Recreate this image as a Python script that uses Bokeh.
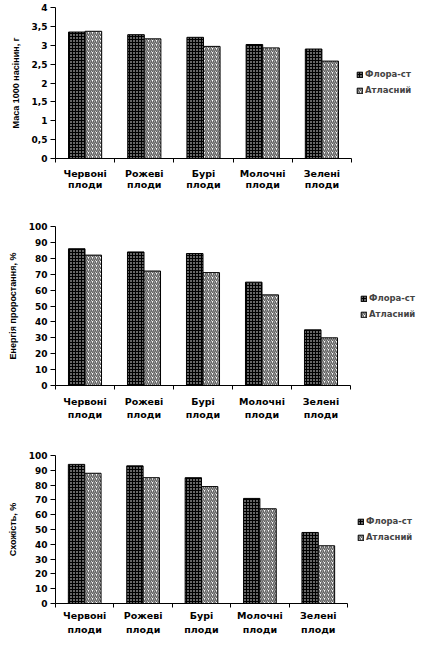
from bokeh.plotting import figure
from bokeh.models import (FixedTicker, CustomJSTickFormatter, Range1d, Legend,
                          LegendItem, ColumnDataSource)
from bokeh.transform import dodge
from bokeh.layouts import column
from bokeh.embed import file_html
from bokeh.resources import INLINE

# ---- data ----
categories = ["Червоні\nплоди", "Рожеві\nплоди", "Бурі\nплоди", "Молочні\nплоди", "Зелені\nплоди"]
series_names = ["Флора-ст", "Атласний"]

mass_flora = [3.35, 3.28, 3.21, 3.02, 2.90]
mass_atlas = [3.37, 3.17, 2.97, 2.93, 2.58]
energy_flora = [86, 84, 83, 65, 35]
energy_atlas = [82, 72, 71, 57, 30]
germ_flora = [94, 93, 85, 71, 48]
germ_atlas = [88, 85, 79, 64, 39]

mass_ticks = [0, 0.5, 1, 1.5, 2, 2.5, 3, 3.5, 4]
pct_ticks = [0, 10, 20, 30, 40, 50, 60, 70, 80, 90, 100]

y_titles = ["Маса 1000 насінин, г", "Енергія проростання, %", "Схожість, %"]

TOTAL_W = 431
RIGHT = 2
charts = [
    dict(title=y_titles[0], flora=mass_flora, atlas=mass_atlas, ticks=mass_ticks,
         aw=296, fh=151, top=7, bottom=55, left=52, std=8, xstd=5, lh=1.05, leg_y=62),
    dict(title=y_titles[1], flora=energy_flora, atlas=energy_atlas, ticks=pct_ticks,
         aw=295, fh=159, top=13, bottom=45, left=53, std=8, xstd=6, lh=1.25, leg_y=65),
    dict(title=y_titles[2], flora=germ_flora, atlas=germ_atlas, ticks=pct_ticks,
         aw=292, fh=148, top=25, bottom=47, left=55, std=8, xstd=2, lh=1.35, leg_y=60),
]

BAR_W = 0.28
FONT = "DejaVu Sans"

figs = []
for c in charts:
    n = len(categories)
    idx = list(range(n))
    fw = TOTAL_W - c["left"] - RIGHT
    x_end = -0.5 + n * fw / c["aw"]          # room on the right for the legend
    src = ColumnDataSource(dict(x=idx, flora=c["flora"], atlas=c["atlas"]))
    p = figure(frame_width=fw, frame_height=c["fh"], output_backend="svg",
               toolbar_location=None,
               x_range=Range1d(-0.5, x_end),
               y_range=Range1d(c["ticks"][0], c["ticks"][-1]),
               min_border_top=c["top"], min_border_bottom=c["bottom"],
               min_border_left=c["left"], min_border_right=RIGHT)
    p.outline_line_color = None
    p.grid.visible = False
    p.background_fill_color = "white"
    p.border_fill_color = "white"

    r1 = p.vbar(x=dodge("x", -BAR_W / 2), top="flora", bottom=0,
                width=BAR_W, source=src, fill_color="black", line_color="black",
                line_width=1, hatch_pattern="dot", hatch_color="white",
                hatch_scale=3, hatch_weight=0.7)
    r2 = p.vbar(x=dodge("x", BAR_W / 2), top="atlas", bottom=0,
                width=BAR_W, source=src, fill_color="white", line_color="black",
                line_width=1, hatch_pattern="right_diagonal_line", hatch_color="#606060",
                hatch_scale=4, hatch_weight=1.5)

    # x axis: labels at category centres, tick marks at category boundaries
    xa = p.xaxis[0]
    xa.bounds = (-0.5, n - 0.5)
    xa.ticker = FixedTicker(ticks=idx, minor_ticks=[i - 0.5 for i in range(n + 1)])
    xa.formatter = CustomJSTickFormatter(args=dict(labels=categories),
                                         code="return labels[Math.round(tick)] || '';")
    xa.major_tick_out = 0
    xa.major_tick_in = 0
    xa.minor_tick_out = 4
    xa.minor_tick_in = 0
    xa.minor_tick_line_color = "black"
    xa.axis_line_color = "black"
    xa.major_label_standoff = c["xstd"]
    xa.major_label_text_font = FONT
    xa.major_label_text_font_style = "bold"
    xa.major_label_text_font_size = "9.5px"
    xa.major_label_text_line_height = c["lh"]
    xa.major_label_text_color = "black"

    ya = p.yaxis[0]
    ya.ticker = FixedTicker(ticks=c["ticks"], minor_ticks=[])
    ya.formatter = CustomJSTickFormatter(code="return tick.toString().replace('.', ',');")
    ya.major_tick_out = 5
    ya.major_tick_in = 0
    ya.minor_tick_line_color = None
    ya.axis_line_color = "black"
    ya.major_label_standoff = 3
    ya.major_label_text_font = FONT
    ya.major_label_text_font_style = "bold"
    ya.major_label_text_font_size = "9px"
    ya.major_label_text_color = "black"
    ya.axis_label = c["title"]
    ya.axis_label_text_font = "Liberation Sans"
    ya.axis_label_text_font_style = "bold"
    ya.axis_label_text_font_size = "9px"
    ya.axis_label_text_color = "black"
    ya.axis_label_standoff = c["std"]

    legend = Legend(items=[LegendItem(label=series_names[0], renderers=[r1]),
                           LegendItem(label=series_names[1], renderers=[r2])],
                    location=(c["aw"] + 10, c["leg_y"]), margin=0, padding=0, spacing=4,
                    glyph_width=7, glyph_height=7, label_standoff=2,
                    label_height=12, label_text_font=FONT,
                    label_text_font_style="bold", label_text_font_size="8.5px",
                    border_line_color=None, background_fill_alpha=0)
    p.add_layout(legend, "center")
    figs.append(p)

layout = column(*figs)
open("out.html", "w").write(file_html(layout, INLINE))
